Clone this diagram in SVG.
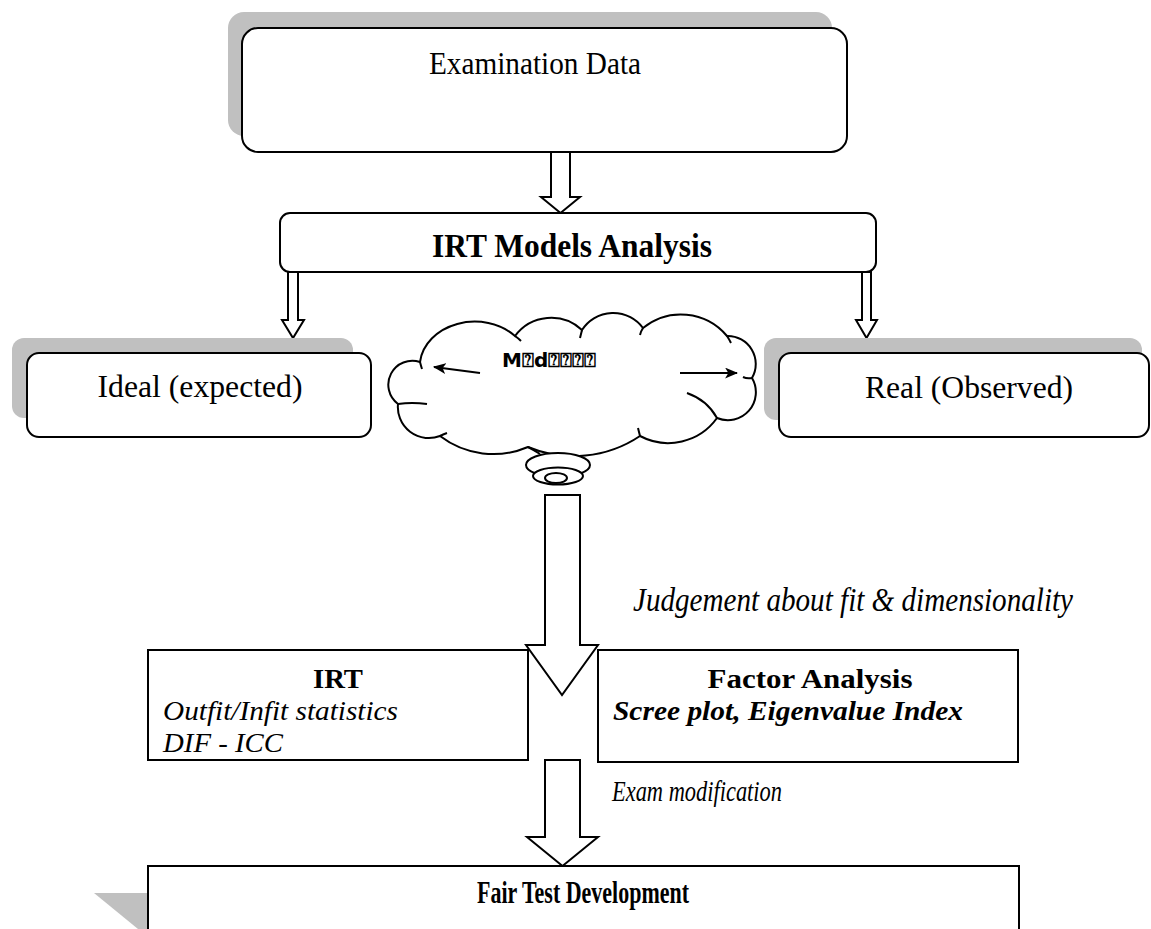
<svg xmlns="http://www.w3.org/2000/svg" width="1151" height="929" viewBox="0 0 1151 929">
<defs>
<style>
.box{fill:#fff;stroke:#000;stroke-width:2}
.shadow{fill:#c0c0c0}
.barrow{fill:#fff;stroke:#000;stroke-width:2;stroke-linejoin:miter}
.t{font-family:"Liberation Serif","Times New Roman",serif;fill:#000}
.b{font-weight:bold}
.i{font-style:italic}
.cloud{fill:#fff;stroke:#000;stroke-width:2}
.tail{fill:none;stroke:#000;stroke-width:2}
.thin{stroke:#000;stroke-width:2;fill:none}
</style>
<marker id="ah" viewBox="0 0 12 10" refX="11" refY="5" markerWidth="13" markerHeight="11" markerUnits="userSpaceOnUse" orient="auto">
<path d="M0,0 L12,5 L0,10 L3,5 Z" fill="#000"/>
</marker>
<clipPath id="clipIRT"><rect x="149" y="651" width="378" height="104"/></clipPath>
</defs>
<rect width="1151" height="929" fill="#fff"/>

<g id="connectors">
<path class="barrow" d="M551,152 L570,152 L570,197 L580,197 L560.5,213 L541,197 L551,197 Z"/>
<path class="barrow" d="M288,272 L298,272 L298,320 L304,320 L293,338 L282,320 L288,320 Z"/>
<path class="barrow" d="M862,272 L871,272 L871,320 L877,320 L866.5,338 L856,320 L862,320 Z"/>
<path class="barrow" d="M545,495 L580,495 L580,645 L598,645 L562,695 L526,645 L545,645 Z"/>
<path class="barrow" d="M545,760 L580,760 L580,837 L598,837 L562.5,866 L527,837 L545,837 Z"/>
</g>

<g id="exam-data">
<rect class="shadow" x="228" y="12" width="604" height="124" rx="16"/>
<rect class="box" x="242" y="28" width="605" height="124" rx="16"/>
<text class="t" x="535" y="74" font-size="32" text-anchor="middle" textLength="212" lengthAdjust="spacingAndGlyphs">Examination Data</text>
</g>

<g id="irt-models">
<rect class="box" x="280" y="213" width="596" height="59" rx="10"/>
<text class="t b" x="572" y="257" font-size="34" text-anchor="middle" textLength="280" lengthAdjust="spacingAndGlyphs">IRT Models Analysis</text>
</g>

<g id="ideal">
<rect class="shadow" x="12" y="338" width="341" height="80" rx="12"/>
<rect class="box" x="27" y="353" width="344" height="84" rx="12"/>
<text class="t" x="200" y="397" font-size="32" text-anchor="middle" textLength="205" lengthAdjust="spacingAndGlyphs">Ideal (expected)</text>
</g>

<g id="real">
<rect class="shadow" x="764" y="338" width="378" height="82" rx="12"/>
<rect class="box" x="779" y="353" width="370" height="84" rx="12"/>
<text class="t" x="969" y="398" font-size="32" text-anchor="middle" textLength="208" lengthAdjust="spacingAndGlyphs">Real (Observed)</text>
</g>

<g id="cloud">
<path class="cloud" d="M420,362 A55,45 0 0 1 515,336 A45,45 0 0 1 582,330 A37,37 0 0 1 643,328 A60,60 0 0 1 727,336 A28,28 0 0 1 752,378 A28,28 0 0 1 717,418 A60,60 0 0 1 640,436 A119,119 0 0 1 528,447 A88,88 0 0 1 440,436 A31,31 0 0 1 398,404 A24,24 0 0 1 420,362 Z"/>
<path class="tail" d="M420,362 Q421,366 422,369 M515,336 Q518,338 521,341 M582,330 Q581,334 580,338 M643,328 Q641,331 640,335 M727,336 Q729,339 731,343 M752,378 Q747,379 743,377 M717,418 Q707,400 687,393 M640,436 Q639,432 638,428 M528,447 Q534,450 540,454 M440,436 Q444,434 447,433 M398,404 Q412,402 427,404"/>
<ellipse class="cloud" cx="558" cy="465" rx="32" ry="12"/>
<ellipse class="cloud" cx="558" cy="476" rx="25" ry="8.5"/>
<ellipse class="cloud" cx="556" cy="478" rx="11" ry="5"/>
<line class="thin" x1="480" y1="373" x2="434" y2="367" marker-end="url(#ah)"/>
<line class="thin" x1="680" y1="373" x2="737" y2="373" marker-end="url(#ah)"/>
<text x="502" y="367" font-family="DejaVu Sans, sans-serif" font-weight="bold" font-size="20">M⍰d⍰⍰⍰⍰</text>
</g>

<g id="judgement-label">
<text class="t i" x="633" y="611" font-size="34" textLength="440" lengthAdjust="spacingAndGlyphs">Judgement about fit &amp; dimensionality</text>
</g>

<g id="irt-box">
<rect class="box" x="148" y="650" width="380" height="110"/>
<g clip-path="url(#clipIRT)">
<text class="t b" x="338" y="688" font-size="28" text-anchor="middle" textLength="50" lengthAdjust="spacingAndGlyphs">IRT</text>
<text class="t i" x="163" y="720" font-size="28" textLength="235" lengthAdjust="spacingAndGlyphs">Outfit/Infit statistics</text>
<text class="t i" x="163" y="752" font-size="28" textLength="120" lengthAdjust="spacingAndGlyphs">DIF - ICC</text>
</g>
</g>

<g id="factor-box">
<rect class="box" x="598" y="650" width="420" height="112"/>
<text class="t b" x="810" y="688" font-size="28" text-anchor="middle" textLength="205" lengthAdjust="spacingAndGlyphs">Factor Analysis</text>
<text class="t b i" x="613" y="720" font-size="28" textLength="350" lengthAdjust="spacingAndGlyphs">Scree plot, Eigenvalue Index</text>
</g>

<g id="exam-mod-label">
<text class="t i" x="612" y="801" font-size="30" textLength="170" lengthAdjust="spacingAndGlyphs">Exam modification</text>
</g>

<g id="fair-test">
<polygon class="shadow" points="94,893 148,893 148,929 138,929"/>
<rect class="box" x="148" y="866" width="871" height="80"/>
<text class="t b" x="583" y="903" font-size="31" text-anchor="middle" textLength="212" lengthAdjust="spacingAndGlyphs">Fair Test Development</text>
</g>
</svg>
